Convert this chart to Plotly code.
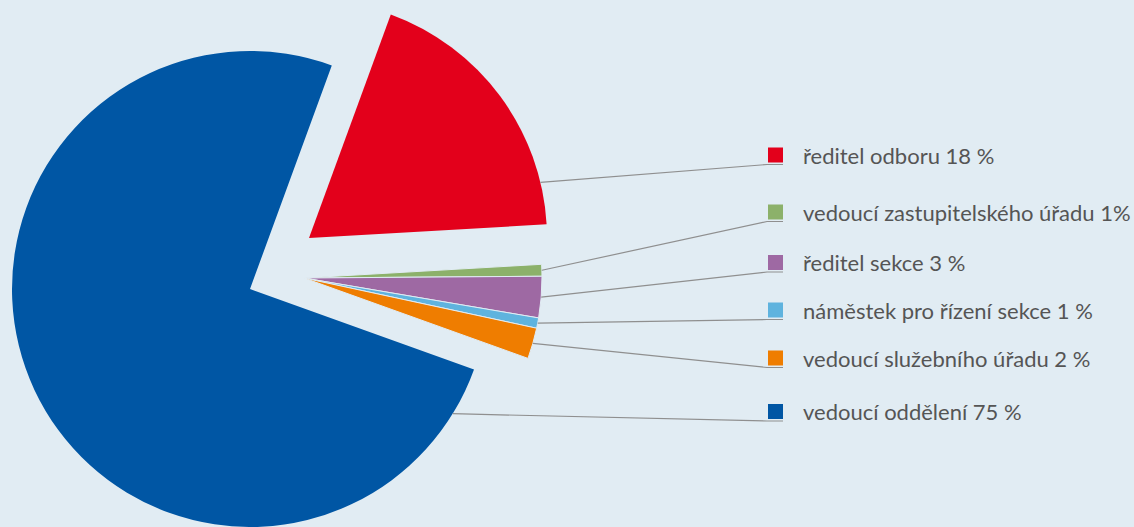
import math
import plotly.graph_objects as go

# ---- data ----
categories = ["ředitel odboru", "vedoucí zastupitelského úřadu", "ředitel sekce",
              "náměstek pro řízení sekce", "vedoucí služebního úřadu", "vedoucí oddělení"]
values = [18.5, 0.8, 2.8, 0.7, 2.1, 75.1]
label_texts = ["ředitel odboru 18 %", "vedoucí zastupitelského úřadu 1%", "ředitel sekce 3 %",
               "náměstek pro řízení sekce 1 %", "vedoucí služebního úřadu 2 %", "vedoucí oddělení 75 %"]
colors = ["#e3001b", "#8cb16a", "#9e69a3", "#5fb3de", "#ef7d00", "#0056a4"]

# ---- layout constants ----
W, H = 1134, 527
BG = "#e1ecf3"
R = 238
ROTATION = 20.1
# pie groups: (slice indices, centre px x, centre px y)
groups = [
    ([5], 250, 289),
    ([0], 309, 238),
    ([1, 2, 3, 4], 304, 278),
]
label_rows_y = [155, 212, 262.5, 310, 358, 411.5]
anchor_override = {0: 13.5, 5: -31.6}
SQ_X0, SQ = 768, 15
TEXT_X = 801

fig = go.Figure()
total = sum(values)
group_of = {}
for gi, (idxs, cx, cy) in enumerate(groups):
    for i in idxs:
        group_of[i] = (cx, cy)
    cols = [colors[i] if i in idxs else "rgba(0,0,0,0)" for i in range(len(values))]
    lw = [1 if (i in idxs and len(idxs) > 1) else 0 for i in range(len(values))]
    fig.add_trace(go.Pie(
        labels=categories, values=values, sort=False, direction="clockwise",
        rotation=ROTATION, textinfo="none", hoverinfo="skip", showlegend=False,
        marker=dict(colors=cols, line=dict(color=BG, width=lw)),
        domain=dict(x=[(cx - R) / W, (cx + R) / W],
                    y=[max(0, (H - cy - R) / H), min(1, (H - cy + R) / H)]),
    ))

# slice mid angles (math degrees) computed from the values
start = 90 - ROTATION
mids = []
cum = 0
for v in values:
    a0 = start - cum / total * 360
    a1 = start - (cum + v) / total * 360
    mids.append((a0 + a1) / 2)
    cum += v

shapes = []
annotations = []
for i, txt in enumerate(label_texts):
    cx, cy = group_of[i]
    ang = math.radians(anchor_override.get(i, mids[i]))
    ax, ay = cx + R * math.cos(ang), cy - R * math.sin(ang)
    ry = label_rows_y[i]
    ly = ry + SQ / 2 + 2
    px = lambda x: x / W
    py = lambda y: 1 - y / H
    shapes.append(dict(type="path", xref="paper", yref="paper",
                       path=f"M {px(ax)},{py(ay)} L {px(SQ_X0 - 1)},{py(ly)} L {px(SQ_X0 + SQ)},{py(ly)}",
                       line=dict(color="#8f8f8f", width=1.2)))
    shapes.append(dict(type="rect", xref="paper", yref="paper",
                       x0=px(SQ_X0), x1=px(SQ_X0 + SQ), y0=py(ry - SQ / 2), y1=py(ry + SQ / 2),
                       fillcolor=colors[i], line=dict(width=0)))
    annotations.append(dict(x=px(TEXT_X), y=py(ry), xref="paper", yref="paper",
                            text=txt, showarrow=False, xanchor="left", yanchor="middle",
                            font=dict(family="Lato, Open Sans, sans-serif", size=22, color="#555555")))

fig.update_layout(
    width=W, height=H, margin=dict(l=0, r=0, t=0, b=0),
    paper_bgcolor=BG, plot_bgcolor=BG,
    shapes=shapes, annotations=annotations,
)
fig.write_html("out.html", config={"displayModeBar": False},
               post_script="document.body.style.margin='0';document.body.style.overflow='hidden';")
